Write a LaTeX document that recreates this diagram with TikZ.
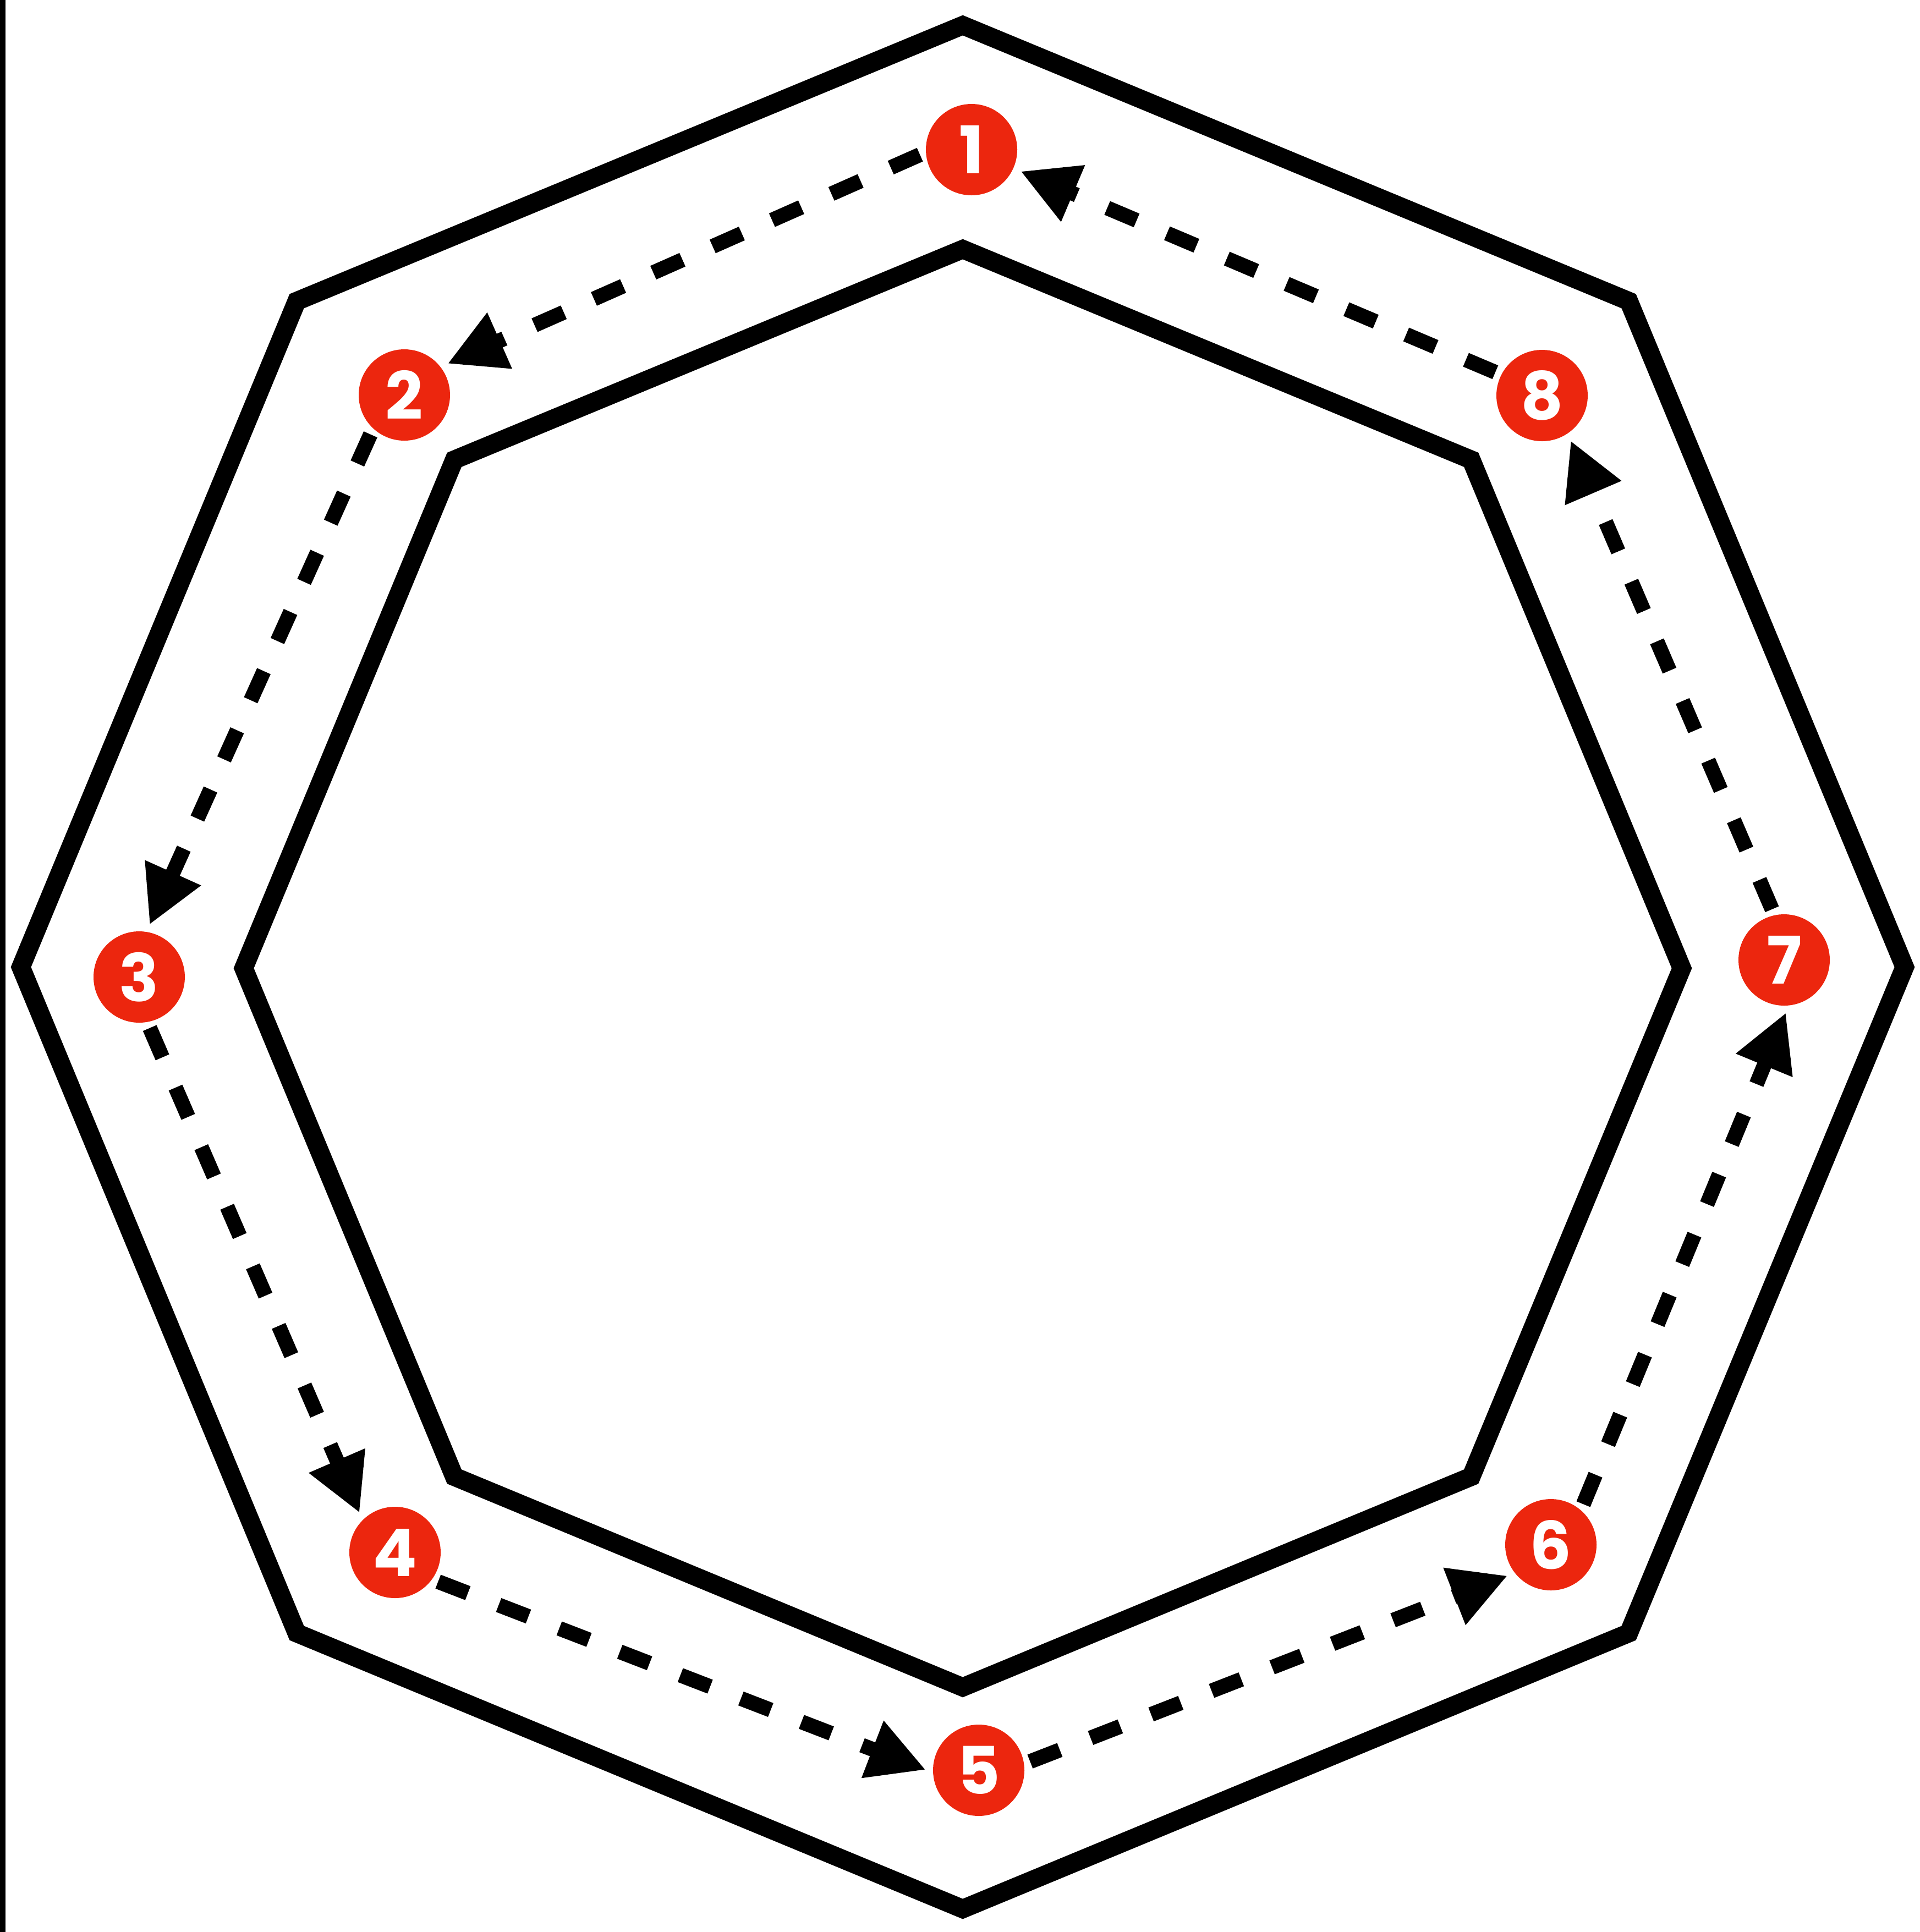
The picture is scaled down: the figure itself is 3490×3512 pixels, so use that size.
\documentclass[tikz,border=0pt]{standalone}
\usepackage{fontspec}
\newfontfamily\numfont{Poppins}
\usetikzlibrary{arrows.meta}
\definecolor{badgered}{RGB}{236,38,14}
\begin{document}
\begin{tikzpicture}[x=0.1mm,y=-0.1mm,
  wall/.style={line width=3.4mm, line join=miter},
  badge/.style={circle, fill=badgered, minimum size=16.6mm, inner sep=0pt, outer sep=0pt,
    text=white, font=\numfont\bfseries\fontsize{34}{34}\selectfont},
  flow/.style={line width=2.7mm, dash pattern=on 5.8mm off 6.0mm,
    shorten <=1.2mm, shorten >=1.4mm, -{Triangle[length=10.4mm,width=10.4mm]}}]
\useasboundingbox (0,0) rectangle (3490,3512);
\fill[white] (0,0) rectangle (3490,3512);
% left border bar
\fill[black] (0,0) rectangle (10,3512);
% outer and inner octagons
\draw[wall] (1750+1712,1758) \foreach \a in {45,90,...,315}{ -- ({1750+1712*cos(\a)},{1758+1712*sin(\a)}) } -- cycle;
\draw[wall] (1750+1307,1760) \foreach \a in {45,90,...,315}{ -- ({1750+1307*cos(\a)},{1760+1307*sin(\a)}) } -- cycle;
% numbered badges
\node[badge] (n1) at (1766,272) {1};
\node[badge] (n2) at (735,718) {2};
\node[badge] (n3) at (253,1776) {3};
\node[badge] (n4) at (718,2822) {4};
\node[badge] (n5) at (1779,3218) {5};
\node[badge] (n6) at (2819,2808) {6};
\node[badge] (n7) at (3243,1745) {7};
\node[badge] (n8) at (2803,719) {8};
% dashed flow arrows
\draw[flow] (n1.183) -- (n2.38);
\draw[flow] (n2.227) -- (n3.81);
\draw[flow] (n3.280) -- (n4.135);
\draw[flow] (n4.324) -- (n5.183);
\draw[flow] (n5.8) -- (n6.218);
\draw[flow] (n6.49) -- (n7.276);
\draw[flow] (n7.102) -- (n8.304);
\draw[flow] (n8.153) -- (n1.336);
\end{tikzpicture}
\end{document}
